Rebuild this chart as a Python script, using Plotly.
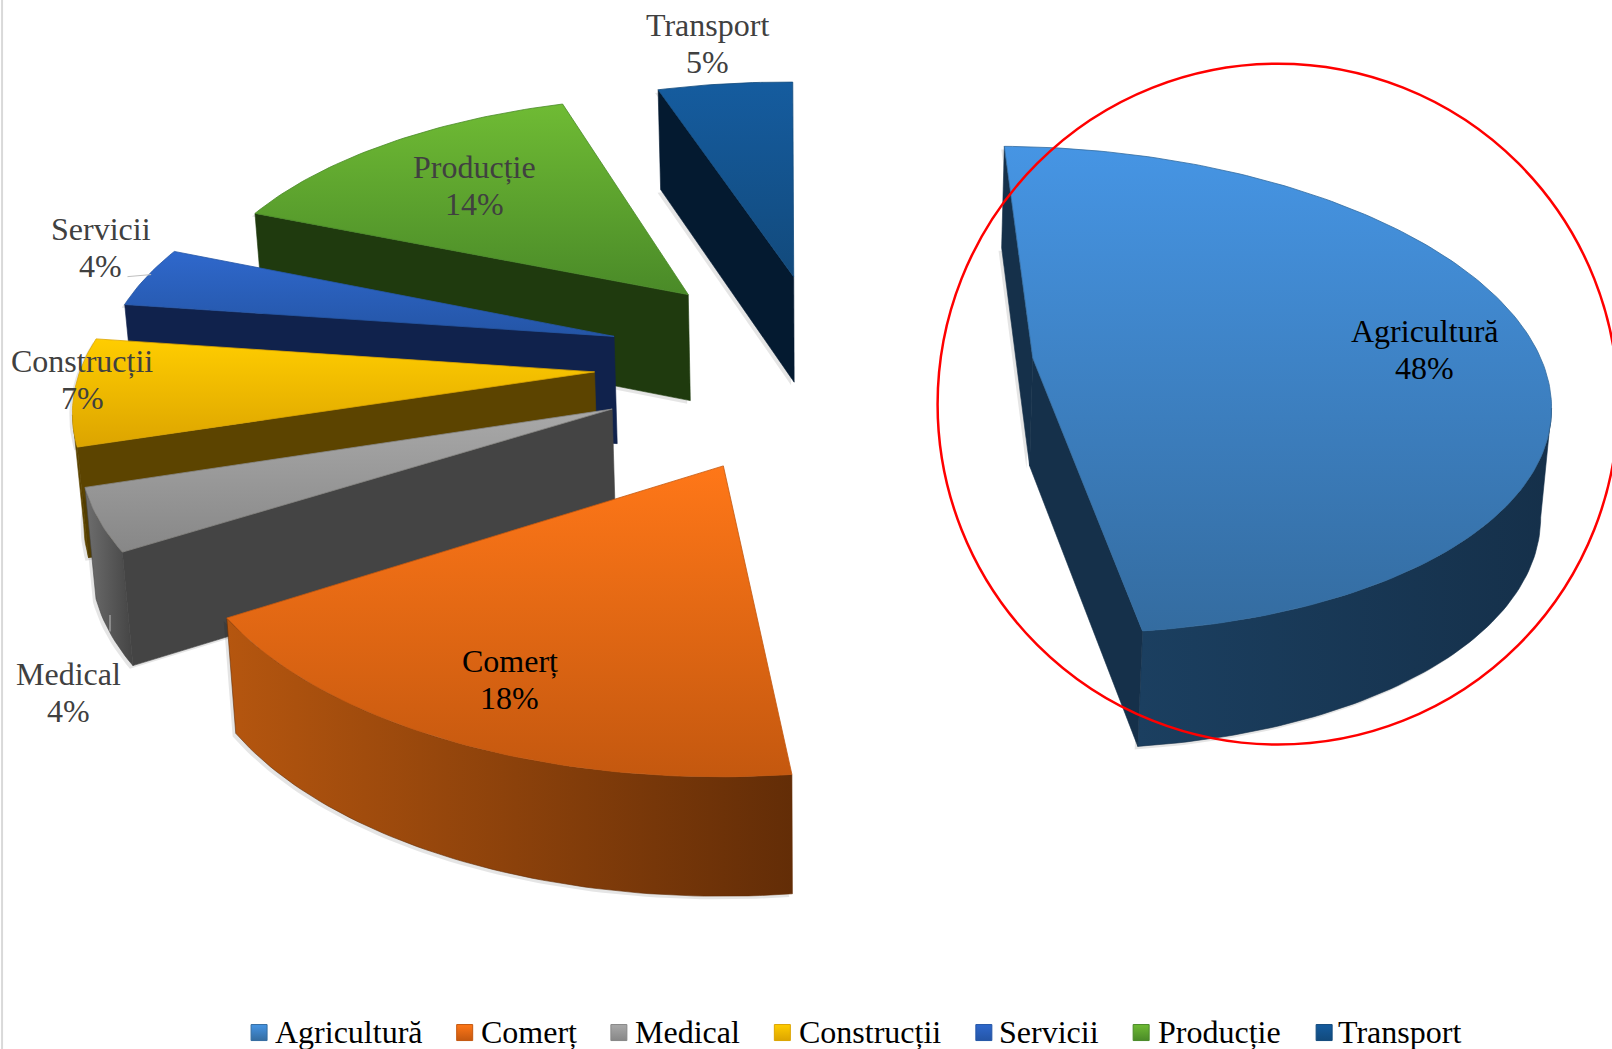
import numpy as np
import plotly.graph_objects as go

categories = ["Agricultură", "Comerț", "Medical", "Construcții", "Servicii", "Producție", "Transport"]
values = [48, 18, 4, 7, 4, 14, 5]
pull = [0.41, 0.45, 0.45, 0.45, 0.43, 0.40, 0.38]
top_light = ["#4695E4", "#FF7718", "#A9A9A9", "#FFCD00", "#2F68CC", "#6FBB34", "#155C9F"]
top_dark = ["#346CA0", "#C4580F", "#878787", "#DCA400", "#2455A6", "#4A8A28", "#124A7C"]
side_light = ["#1B3F60", "#B5560F", "#6E6E6E", "#5C4400", "#10224C", "#233F10", "#0B2A48"]
side_dark = ["#15304A", "#632D07", "#444444", "#5C4400", "#10224C", "#1F3A0E", "#041A30"]
label_color = ["#000000", "#000000", "#404040", "#404040", "#404040", "#404040", "#404040"]
label_pos = [(1386, 340), (496, 661), (67, 673), (80, 369), (98, 241), (462, 180), (688, 42)]
key_x = [252, 452, 602, 761, 957, 1110, 1288]
key_text_x = [266, 466, 616, 775, 970, 1124, 1300]
key_y = 1003
draw_order = [6, 5, 4, 3, 2, 1, 0]

# projection of the pie plane (reference pixels, 1568 wide)
CX, CY, BX, AY, K, DEPTH, CONVERGE, TILT, SKEW = 802, 353, 497, 234, 0.13, 105, 0.015, 3, 5


def project(px, py):
    w = 1 + K * py
    return CX + (BX * px - SKEW * py) / w, CY + (TILT * px - AY * py) / w, DEPTH / np.sqrt(w)


def base_x(x):
    return x + (CX - x) * CONVERGE


fig = go.Figure()
total = sum(values)
edges = np.concatenate([[0], np.cumsum(values)]) / total * 2 * np.pi


def face(xs, ys, c0, c1, kind):
    fig.add_trace(go.Scatter(
        x=xs, y=ys, mode="lines", fill="toself", line=dict(width=0.6, color=c1),
        fillgradient=dict(type=kind, colorscale=[[0, c0], [1, c1]]),
        hoverinfo="skip", showlegend=False))


for i in draw_order:
    a0, a1 = edges[i], edges[i + 1]
    mid = (a0 + a1) / 2
    ox, oy = pull[i] * np.sin(mid), pull[i] * np.cos(mid)
    th = np.linspace(a0, a1, max(6, int(np.degrees(a1 - a0))))
    ax, ay, ad = project(np.array([ox]), np.array([oy]))
    rx, ry, rd = project(ox + np.sin(th), oy + np.cos(th))
    # outline clockwise: apex, arc, apex
    X = np.concatenate([ax, rx, ax])
    Y = np.concatenate([ay, ry, ay])
    D = np.concatenate([ad, rd, ad])
    Xb = base_x(X)
    # soft shadow beneath the block
    fig.add_trace(go.Scatter(
        x=np.concatenate([X[:-1] - 3, Xb[:-1][::-1] - 3]),
        y=np.concatenate([Y[:-1] + 3, (Y + D)[:-1][::-1] + 3]),
        mode="lines", fill="toself", line=dict(width=0), fillcolor="rgba(0,0,0,0.10)",
        hoverinfo="skip", showlegend=False))
    # radial side walls (only those turned to the viewer)
    for s, e in [(0, 1), (len(X) - 2, len(X) - 1)]:
        if X[e] < X[s]:
            face([X[s], X[e], Xb[e], Xb[s], X[s]],
                 [Y[s], Y[e], Y[e] + D[e], Y[s] + D[s], Y[s]],
                 side_dark[i], side_dark[i], "horizontal")
    # outer wall: the run of arc that moves leftwards
    vis = np.diff(rx) < 0
    if vis.any():
        idx = np.where(vis)[0]
        lo, hi = idx[0], idx[-1] + 1
        ux, uy, ud = rx[lo:hi + 1], ry[lo:hi + 1], rd[lo:hi + 1]
        face(np.concatenate([ux, base_x(ux)[::-1], ux[:1]]),
             np.concatenate([uy, (uy + ud)[::-1], uy[:1]]),
             side_light[i], side_dark[i], "horizontal")
    # top face
    fig.add_trace(go.Scatter(
        x=X, y=Y, mode="lines", fill="toself", line=dict(width=0.8, color=top_dark[i]),
        fillgradient=dict(type="vertical", colorscale=[[0, top_dark[i]], [1, top_light[i]]]),
        name=categories[i], hoverinfo="skip", showlegend=False))

annotations = []
for i, name in enumerate(categories):
    x, y = label_pos[i]
    for text, yy in ((name, y - 18), (f"{values[i]}%", y + 18)):
        annotations.append(dict(x=x, y=yy, text=text, showarrow=False, xanchor="center", yanchor="middle",
                                font=dict(family="Liberation Serif", size=32, color=label_color[i])))
    # key row along the bottom
    fig.add_trace(go.Scatter(
        x=[key_x[i]], y=[key_y + 1], mode="markers", name=name, hoverinfo="skip", showlegend=False,
        marker=dict(symbol="square", size=16, color=top_light[i],
                    gradient=dict(type="vertical", color=top_dark[i]),
                    line=dict(width=1, color=top_dark[i]))))
    annotations.append(dict(x=key_text_x[i], y=key_y, text=name, showarrow=False, xanchor="left", yanchor="middle",
                            font=dict(family="Liberation Serif", size=32, color="#000000")))

fig.update_layout(
    width=1612, height=1049, margin=dict(l=0, r=0, t=0, b=0, autoexpand=False),
    paper_bgcolor="white", plot_bgcolor="white", showlegend=False,
    xaxis=dict(range=[0, 1568], visible=False, fixedrange=True),
    yaxis=dict(range=[1020, 0], visible=False, fixedrange=True),
    annotations=annotations,
    shapes=[
        dict(type="circle", xref="x", yref="y", x0=912, x1=1574, y0=62, y1=724,
             line=dict(color="#FF0000", width=2.5)),
        dict(type="line", xref="x", yref="y", x0=2, x1=2, y0=0, y1=1020,
             line=dict(color="#D9D9D9", width=2)),
        dict(type="line", xref="x", yref="y", x0=124, x1=147, y0=269, y1=267,
             line=dict(color="#BFBFBF", width=1)),
        dict(type="line", xref="x", yref="y", x0=107, x1=107, y0=598, y1=614,
             line=dict(color="#BFBFBF", width=1)),
    ],
)
fig.write_html("out.html", config=dict(displayModeBar=False),
               post_script="document.body.style.margin='0';document.body.style.overflow='hidden';")
